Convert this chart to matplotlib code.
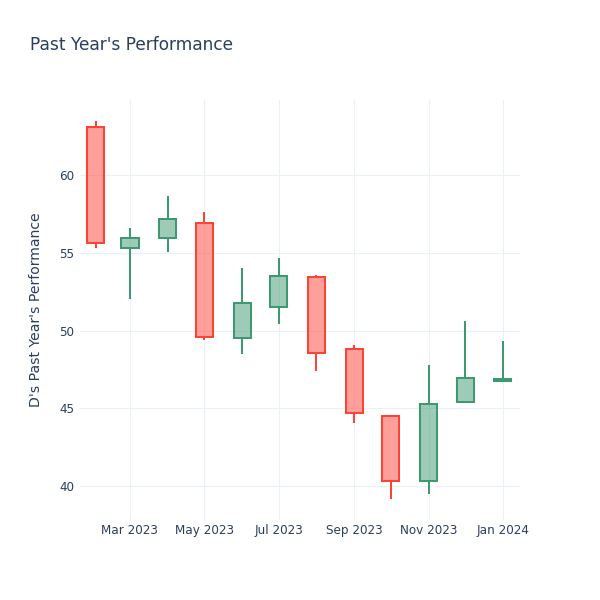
import matplotlib
matplotlib.use("Agg")
import matplotlib.pyplot as plt
import matplotlib.dates as mdates
from matplotlib.patches import Rectangle
import datetime as dt

dates = ["2023-02-01", "2023-03-01", "2023-04-01", "2023-05-01", "2023-06-01", "2023-07-01",
         "2023-08-01", "2023-09-01", "2023-10-01", "2023-11-01", "2023-12-01", "2024-01-01"]
opens = [63.15, 55.35, 55.99, 56.96, 49.55, 51.55, 53.48, 48.82, 44.50, 40.32, 45.43, 46.78]
highs = [63.50, 56.60, 58.68, 57.63, 54.02, 54.70, 53.61, 49.08, 44.52, 47.79, 50.64, 49.34]
lows = [55.35, 52.04, 55.05, 49.40, 48.48, 50.43, 47.42, 44.07, 39.18, 39.46, 45.32, 46.68]
closes = [55.63, 55.95, 57.18, 49.61, 51.77, 53.52, 48.54, 44.68, 40.32, 45.28, 46.97, 46.87]

tick_dates = ["2023-03-01", "2023-05-01", "2023-07-01", "2023-09-01", "2023-11-01", "2024-01-01"]
tick_labels = ["Mar 2023", "May 2023", "Jul 2023", "Sep 2023", "Nov 2023", "Jan 2024"]
y_ticks = [40, 45, 50, 55, 60]

INC = "#3D9970"
DEC = "#FF4136"
TXT = "#2a3f5f"
GRID = "#EBF0F8"

plt.rcParams['font.family'] = ['DejaVu Sans']

fig = plt.figure(figsize=(6, 6), dpi=100)
ax = fig.add_axes([80/600, 80/600, 440/600, 420/600])

xs = [mdates.date2num(dt.datetime.fromisoformat(d)) for d in dates]
width = 14.0
lw = 1.44
for x, o, h, l, c in zip(xs, opens, highs, lows, closes):
    col = INC if c >= o else DEC
    lo_b, hi_b = min(o, c), max(o, c)
    ax.plot([x, x], [l, lo_b], color=col, lw=lw, solid_capstyle='butt', zorder=3)
    ax.plot([x, x], [hi_b, h], color=col, lw=lw, solid_capstyle='butt', zorder=3)
    ax.add_patch(Rectangle((x - width/2, lo_b), width, max(hi_b - lo_b, 0.001),
                           facecolor=col, alpha=0.5, edgecolor='none', zorder=3))
    ax.add_patch(Rectangle((x - width/2, lo_b), width, max(hi_b - lo_b, 0.001),
                           facecolor='none', edgecolor=col, lw=lw, zorder=4))

ax.set_xlim(mdates.date2num(dt.datetime(2023, 1, 19)), mdates.date2num(dt.datetime(2024, 1, 15)))
ax.set_ylim(37.8, 64.86)

ax.set_xticks([mdates.date2num(dt.datetime.fromisoformat(d)) for d in tick_dates])
ax.set_xticklabels(tick_labels)
ax.set_yticks(y_ticks)
ax.set_yticklabels([str(v) for v in y_ticks])
ax.tick_params(axis='both', length=0, labelsize=8.64, colors=TXT)
ax.tick_params(axis='x', pad=3)
ax.tick_params(axis='y', pad=4)
ax.grid(True, color=GRID, lw=0.8)
ax.set_axisbelow(True)
for s in ax.spines.values():
    s.set_visible(False)

ax.set_ylabel("D's Past Year's Performance", fontsize=10.08, color=TXT, labelpad=12)
fig.text(30/600, 1 - 45/600, "Past Year's Performance", fontsize=12.24, color=TXT,
         ha='left', va='center')

fig.savefig("out.png", dpi=100, facecolor='white')
